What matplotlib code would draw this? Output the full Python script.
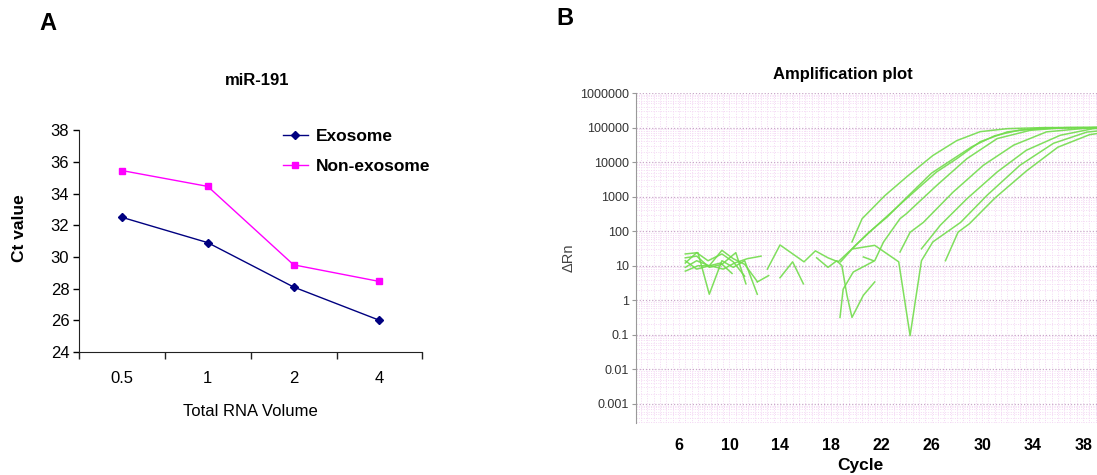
import numpy as np
import matplotlib.pyplot as plt
from matplotlib.ticker import FixedLocator, FixedFormatter, NullFormatter

plt.rcParams['font.family'] = ['Liberation Sans', 'DejaVu Sans']

# ---- panel A: Ct value vs total RNA volume ----
volumes = ['0.5', '1', '2', '4']
ct_exosome = [32.5, 30.9, 28.1, 26.0]
ct_nonexosome = [35.45, 34.45, 29.5, 28.45]

# ---- panel B: amplification curves (cycle, delta Rn) ----
curves = [
    # rising curves
    ([19.7, 20.5, 22.3, 24.05, 26.1, 28.0, 29.85, 32.0, 35.0, 39.2],
     [49, 230, 1070, 3800, 15500, 42000, 76000, 93000, 100000, 100000]),
    ([13.0, 14.0, 15.9, 16.8, 17.8, 18.6, 19.7, 21.4, 24.0, 26.4, 28.0, 29.85, 32.0, 34.6, 39.2],
     [8, 40, 13, 27, 17, 13, 31, 120, 870, 5200, 12600, 39000, 75000, 97000, 100000]),
    ([18.8, 20.0, 21.0, 22.5, 24.2, 26.0, 27.5, 29.2, 31.0, 33.0, 36.0, 39.2],
     [13, 40, 90, 260, 1100, 4800, 11000, 28000, 58000, 85000, 99000, 100000]),
    ([18.75, 19.0, 19.8, 21.5, 22.2, 23.5, 24.0, 26.4, 28.8, 31.2, 33.8, 36.7, 39.2],
     [0.32, 2.1, 6.6, 14, 49, 230, 320, 2100, 12600, 48000, 83000, 100000, 100000]),
    ([23.5, 24.3, 25.35, 27.7, 30.1, 32.5, 35.1, 38.8, 39.2],
     [25, 93, 180, 1350, 8100, 31000, 75000, 100000, 100000]),
    ([25.2, 26.7, 28.8, 31.2, 33.5, 36.2, 38.8, 39.2],
     [31, 150, 870, 5200, 22000, 60000, 93000, 95000]),
    ([19.8, 21.5, 23.4, 24.3, 25.2, 26.1, 28.3, 30.4, 33.0, 35.65, 38.3, 39.2],
     [31, 39, 13, 0.095, 14, 49, 180, 1100, 8100, 35000, 74000, 80000]),
    ([27.1, 28.1, 29.0, 31.0, 33.5, 36.0, 38.5, 39.2],
     [14, 94, 165, 900, 5500, 27000, 62000, 68000]),
    # baseline noise
    ([6.5, 7.5, 8.4, 9.4, 10.3, 11.2, 12.2], [22, 24, 1.5, 14, 9, 14, 1.5]),
    ([6.5, 7.4, 8.4, 9.4, 10.5, 11.3], [17, 19, 9, 11, 24, 3]),
    ([6.5, 7.4, 8.4, 9.4, 10.3, 11.2, 12.2], [9, 14, 10, 28, 16, 11, 3.5]),
    ([6.5, 7.4, 8.3, 9.4, 10.3, 11.2], [12, 24, 14, 22, 13, 5]),
    ([6.5, 7.5, 8.5, 9.5, 10.4, 11.4, 12.5], [7, 10, 10, 8, 12, 16, 19]),
    ([6.5, 7.4, 8.4, 9.3, 10.2], [14, 8, 10, 12, 6]),
    ([12.2, 13.1], [3.4, 5.2]),
    ([14.0, 15.0, 15.85], [4.5, 13, 3]),
    ([16.9, 17.8, 18.5, 18.9, 19.3, 19.7, 20.6, 21.5], [17, 9, 14, 10, 1.4, 0.32, 1.4, 3.4]),
    ([20.6, 21.4], [18, 14]),
]

cycle_ticks = [6, 10, 14, 18, 22, 26, 30, 34, 38]
drn_ticks = [0.001, 0.01, 0.1, 1, 10, 100, 1000, 10000, 100000, 1000000]
drn_labels = ['0.001', '0.01', '0.1', '1', '10', '100', '1000', '10000', '100000', '1000000']

fig = plt.figure(figsize=(10.97, 4.75), dpi=100)

# panel A
ax1 = fig.add_axes([0.072, 0.259, 0.313, 0.467])
xpos = np.arange(len(volumes))
ax1.plot(xpos, ct_exosome, color='#000080', marker='D', markersize=4, lw=1.0, label='Exosome')
ax1.plot(xpos, ct_nonexosome, color='#ff00ff', marker='s', markersize=4.5, lw=1.0, label='Non-exosome')
ax1.set_xlim(-0.5, 3.5)
ax1.set_ylim(24, 38)
ax1.set_yticks(np.arange(24, 39, 2))
ax1.set_xticks(np.arange(-0.5, 4.0, 1.0))
ax1.xaxis.set_major_formatter(NullFormatter())
ax1.set_xticks(xpos, minor=True)
ax1.set_xticklabels(volumes, minor=True)
ax1.tick_params(axis='x', which='major', direction='out', length=5, width=1, color='#222222')
ax1.tick_params(axis='x', which='minor', length=0, pad=14, labelsize=12)
ax1.tick_params(axis='y', direction='out', length=4, width=1, labelsize=12, pad=3)
for s in ('top', 'right'):
    ax1.spines[s].set_visible(False)
for s in ('left', 'bottom'):
    ax1.spines[s].set_color('#222222')
ax1.set_ylabel('Ct value', fontsize=12.5, fontweight='bold')
ax1.yaxis.set_label_coords(-0.152, 0.56)
ax1.set_xlabel('Total RNA Volume', fontsize=12, labelpad=13)
ax1.legend(loc='upper left', bbox_to_anchor=(0.548, 1.075), frameon=False,
           prop={'weight': 'bold', 'size': 12.5}, handlelength=1.45,
           labelspacing=0.85, handletextpad=0.45)
fig.text(0.234, 0.83, 'miR-191', fontsize=12, fontweight='bold', ha='center', va='center')
fig.text(0.044, 0.951, 'A', fontsize=17, fontweight='bold', ha='center', va='center')

# panel B
ax2 = fig.add_axes([0.5798, 0.1095, 0.4202, 0.6947])
ax2.set_yscale('log')
ax2.set_xlim(2.6, 39.1)
ax2.set_ylim(10 ** -3.55, 1e6)
for cx, cy in curves:
    ax2.plot(cx, cy, color='#72dc4c', lw=1.1, alpha=0.9)

ax2.yaxis.set_major_locator(FixedLocator(drn_ticks))
ax2.yaxis.set_major_formatter(FixedFormatter(drn_labels))
ax2.set_xticks(cycle_ticks)
ax2.set_xticks(np.arange(3.0, 39.5, 0.5), minor=True)
ax2.tick_params(axis='y', which='major', labelsize=9, labelcolor='#333333', length=3, color='#999999', pad=2)
ax2.tick_params(axis='y', which='minor', length=0)
ax2.tick_params(axis='x', which='both', length=0)
ax2.tick_params(axis='x', which='major', labelsize=11.5, pad=11)
for lab in ax2.get_xticklabels():
    lab.set_fontweight('bold')
ax2.grid(True, axis='y', which='major', color='#c9a9c9', linestyle=(0, (1, 1.5)), lw=0.9)
ax2.grid(True, axis='y', which='minor', color='#f4d8f4', linestyle=(0, (1, 1.5)), lw=0.7)
ax2.grid(True, axis='x', which='both', color='#f4d8f4', linestyle=(0, (1, 1.5)), lw=0.7)
ax2.set_axisbelow(True)
for s in ('top', 'right', 'bottom'):
    ax2.spines[s].set_visible(False)
ax2.spines['left'].set_color('#999999')
ax2.set_xlabel('Cycle', fontsize=12.5, fontweight='bold')
ax2.xaxis.set_label_coords(0.486, -0.106)
ax2.set_ylabel('ΔRn', fontsize=10.5, color='#444444', labelpad=3)
fig.text(0.768, 0.844, 'Amplification plot', fontsize=12, fontweight='bold', ha='center', va='center')
fig.text(0.515, 0.962, 'B', fontsize=17, fontweight='bold', ha='center', va='center')

fig.savefig('out.png', dpi=100)
